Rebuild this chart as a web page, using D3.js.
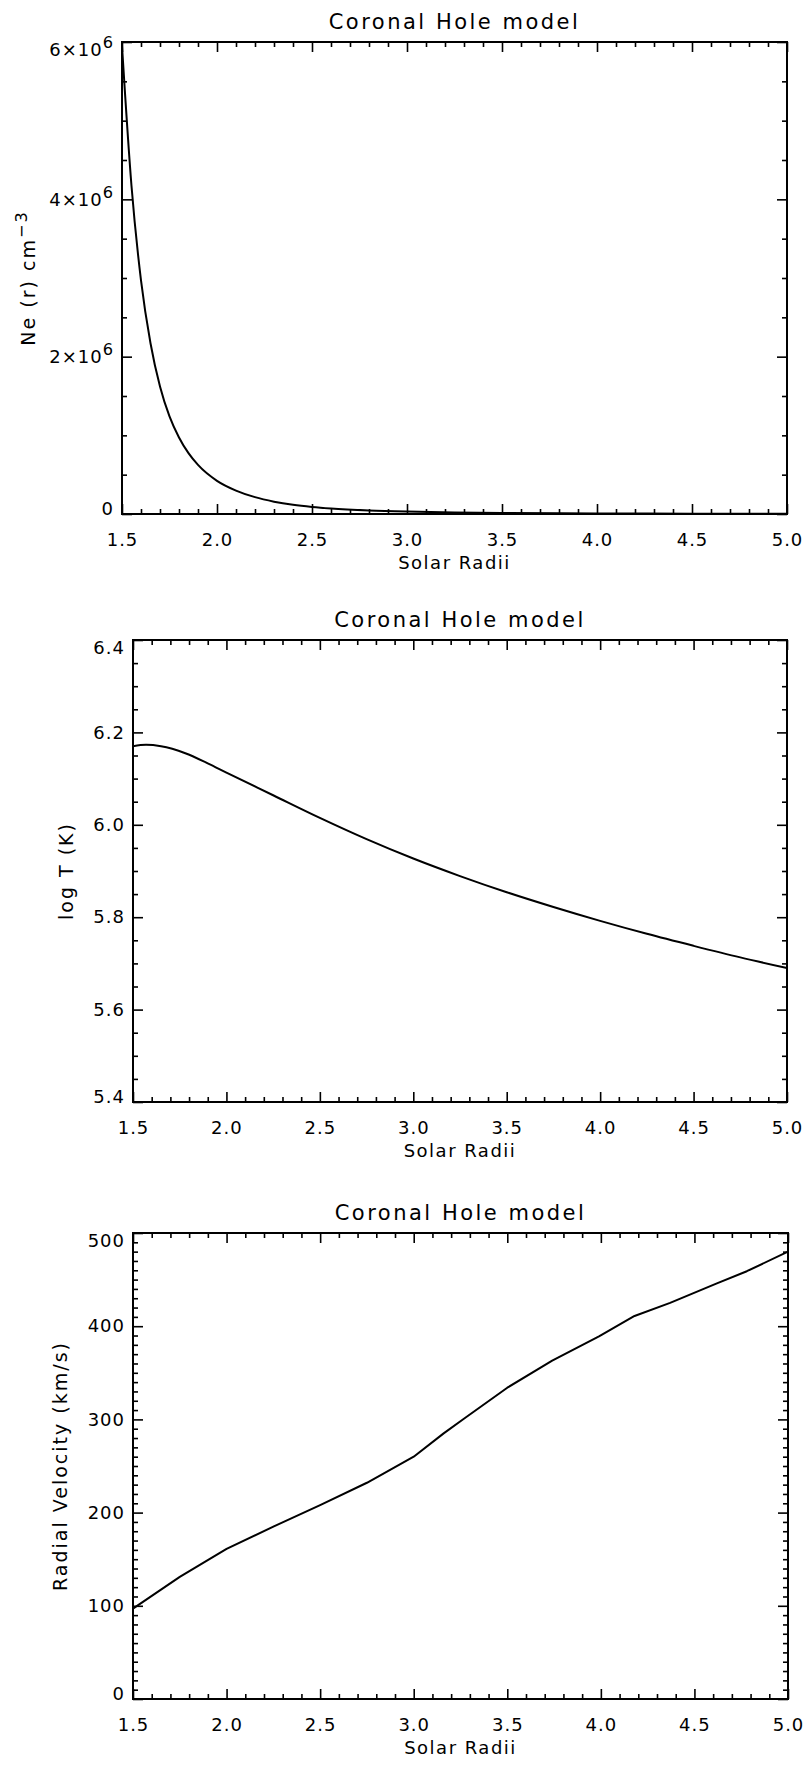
<!DOCTYPE html>
<html>
<head>
<meta charset="utf-8">
<script src="https://cdn.jsdelivr.net/npm/d3@7"></script>
<style>
  body { margin: 0; background: #fff; }
  svg { display: block; }
  text { font-family: "DejaVu Sans", sans-serif; fill: #000; }
</style>
</head>
<body>
<svg id="chart" width="808" height="1766"></svg>
<script>
// Heliocentric distance axis shared by the three panels (solar radii)
const radiusTicks = [1.5, 2.0, 2.5, 3.0, 3.5, 4.0, 4.5, 5.0];

// Electron density Ne(r), cm^-3
const densityRadius = [1.50, 1.55, 1.60, 1.65, 1.70, 1.75, 1.80, 1.85, 1.90, 2.00, 2.10, 2.20, 2.30,
                       2.40, 2.50, 2.60, 2.80, 3.00, 3.25, 3.50, 4.00, 4.50, 5.00];
const densityNe = [5.95e6, 4.17e6, 2.97e6, 2.17e6, 1.62e6, 1.24e6, 0.973e6, 0.773e6, 0.624e6, 0.422e6, 0.298e6, 0.214e6, 0.157e6,
                   0.117e6, 0.0896e6, 0.0698e6, 0.045e6, 0.0307e6, 0.0201e6, 0.0138e6, 0.0072e6, 0.0042e6, 0.0025e6];
const densityTicks = [0, 2e6, 4e6, 6e6];

// Electron temperature, log T (K)
const tempRadius = [1.50, 1.57, 1.65, 1.78, 1.90, 2.00, 2.25, 2.50, 2.75, 3.00, 3.25, 3.50, 3.75, 4.00, 4.25, 4.50, 4.75, 5.00];
const tempLogT = [6.170, 6.173, 6.170, 6.155, 6.133, 6.113, 6.064, 6.015, 5.969, 5.927, 5.889, 5.854, 5.822, 5.792, 5.764, 5.738, 5.713, 5.690];
const tempTicks = [5.4, 5.6, 5.8, 6.0, 6.2, 6.4];

// Outflow speed, km/s
const velRadius = [1.50, 1.75, 2.00, 2.25, 2.50, 2.75, 3.00, 3.16, 3.27, 3.50, 3.74, 3.99, 4.18, 4.37, 4.62, 4.78, 5.00];
const velKms = [97, 131, 161, 185, 208, 232, 260, 285, 301, 334, 363, 389, 411, 425, 446, 459, 480];
const velTicks = [0, 100, 200, 300, 400, 500];

const svg = d3.select("#chart");
const TICK_FONT = 18;

function styleAxis(sel) {
  sel.select(".domain").remove();
  sel.attr("font-size", TICK_FONT).attr("font-family", "DejaVu Sans");
  sel.selectAll("text").attr("letter-spacing", 1);
  sel.selectAll("line").attr("stroke", "#000").attr("stroke-width", 1.6);
}

function minorValues(lo, hi, step, majors) {
  const n0 = Math.round(lo / step), n1 = Math.round(hi / step);
  return d3.range(n0, n1 + 1).map(i => +(i * step).toFixed(6))
    .filter(v => !majors.some(m => Math.abs(m - v) < step / 10));
}

function drawPanel(cfg) {
  const x = d3.scaleLinear().domain([1.5, 5.0]).range([cfg.left, cfg.right]);
  const y = d3.scaleLinear().domain([cfg.yTicks[0], cfg.yTicks[cfg.yTicks.length - 1]]).range([cfg.bottom, cfg.top]);
  const g = svg.append("g");

  const xMinor = minorValues(1.5, 5.0, 0.1, radiusTicks);
  const yMinor = minorValues(y.domain()[0], y.domain()[1], cfg.yMinorStep, cfg.yTicks);

  // bottom axis with labels
  g.append("g").attr("transform", `translate(0,${cfg.bottom})`)
    .call(d3.axisBottom(x).tickValues(radiusTicks).tickSizeInner(-10).tickSizeOuter(0)
      .tickPadding(19).tickFormat(d3.format(".1f")))
    .call(styleAxis);
  g.append("g").attr("transform", `translate(0,${cfg.bottom})`)
    .call(d3.axisBottom(x).tickValues(xMinor).tickSizeInner(-5).tickSizeOuter(0).tickFormat(""))
    .call(styleAxis);
  // top axis, ticks only
  g.append("g").attr("transform", `translate(0,${cfg.top})`)
    .call(d3.axisTop(x).tickValues(radiusTicks).tickSizeInner(-10).tickSizeOuter(0).tickFormat(""))
    .call(styleAxis);
  g.append("g").attr("transform", `translate(0,${cfg.top})`)
    .call(d3.axisTop(x).tickValues(xMinor).tickSizeInner(-5).tickSizeOuter(0).tickFormat(""))
    .call(styleAxis);

  // left axis with labels
  const yMax = y.domain()[1], yMin = y.domain()[0];
  const left = g.append("g").attr("transform", `translate(${cfg.left},0)`)
    .call(d3.axisLeft(y).tickValues(cfg.yTicks).tickSizeInner(-10).tickSizeOuter(0)
      .tickPadding(8).tickFormat(cfg.yFormat))
    .call(styleAxis);
  left.selectAll(".tick text")
    .attr("y", d => d === yMax ? 8 : (d === yMin ? -5 : 0))
    .each(function (d) {
      if (!cfg.sciNotation || d === 0) return;
      const exp = Math.floor(Math.log10(d));
      const mant = Math.round(d / Math.pow(10, exp));
      const t = d3.select(this).text(null);
      t.append("tspan").text(`${mant}×10`);
      t.append("tspan").attr("dy", "-0.5em").attr("font-size", "0.9em").text(exp);
    });
  g.append("g").attr("transform", `translate(${cfg.left},0)`)
    .call(d3.axisLeft(y).tickValues(yMinor).tickSizeInner(-5).tickSizeOuter(0).tickFormat(""))
    .call(styleAxis);
  // right axis, ticks only
  g.append("g").attr("transform", `translate(${cfg.right},0)`)
    .call(d3.axisRight(y).tickValues(cfg.yTicks).tickSizeInner(-10).tickSizeOuter(0).tickFormat(""))
    .call(styleAxis);
  g.append("g").attr("transform", `translate(${cfg.right},0)`)
    .call(d3.axisRight(y).tickValues(yMinor).tickSizeInner(-5).tickSizeOuter(0).tickFormat(""))
    .call(styleAxis);

  // plot frame
  g.append("rect")
    .attr("x", cfg.left).attr("y", cfg.top)
    .attr("width", cfg.right - cfg.left).attr("height", cfg.bottom - cfg.top)
    .attr("fill", "none").attr("stroke", "#000").attr("stroke-width", 2);

  // profile curve
  const line = d3.line().x(d => x(d[0])).y(d => y(d[1])).curve(cfg.curve);
  g.append("path")
    .datum(d3.zip(cfg.xs, cfg.ys))
    .attr("d", line)
    .attr("fill", "none").attr("stroke", "#000").attr("stroke-width", 2)
    .attr("stroke-linejoin", "round");

  // titles
  g.append("text")
    .attr("x", (cfg.left + cfg.right) / 2).attr("y", cfg.top - 13)
    .attr("text-anchor", "middle").attr("font-size", 21).attr("letter-spacing", 2.5)
    .text("Coronal Hole model");
  g.append("text")
    .attr("x", (cfg.left + cfg.right) / 2).attr("y", cfg.bottom + 55)
    .attr("text-anchor", "middle").attr("font-size", 18).attr("letter-spacing", 1.5)
    .text("Solar Radii");
  const yt = g.append("text")
    .attr("transform", `translate(${cfg.yTitleX},${(cfg.top + cfg.bottom) / 2}) rotate(-90)`)
    .attr("text-anchor", "middle").attr("font-size", 19).attr("letter-spacing", 2);
  cfg.yTitle(yt);
}

drawPanel({
  left: 122, right: 787, top: 42, bottom: 514,
  yTicks: densityTicks, yMinorStep: 0.5e6, sciNotation: true, yFormat: d => String(d),
  xs: densityRadius, ys: densityNe, curve: d3.curveMonotoneX,
  yTitleX: 35,
  yTitle: t => {
    t.append("tspan").text("Ne (r) cm");
    t.append("tspan").attr("dy", "-0.5em").attr("font-size", "0.85em").text("−3");
  }
});

drawPanel({
  left: 133, right: 787, top: 640, bottom: 1102,
  yTicks: tempTicks, yMinorStep: 0.05, sciNotation: false, yFormat: d3.format(".1f"),
  xs: tempRadius, ys: tempLogT, curve: d3.curveMonotoneX,
  yTitleX: 73,
  yTitle: t => t.text("log T (K)")
});

drawPanel({
  left: 133, right: 788, top: 1233, bottom: 1699,
  yTicks: velTicks, yMinorStep: 10, sciNotation: false, yFormat: d3.format("d"),
  xs: velRadius, ys: velKms, curve: d3.curveLinear,
  yTitleX: 67,
  yTitle: t => t.text("Radial Velocity (km/s)")
});
</script>
</body>
</html>
